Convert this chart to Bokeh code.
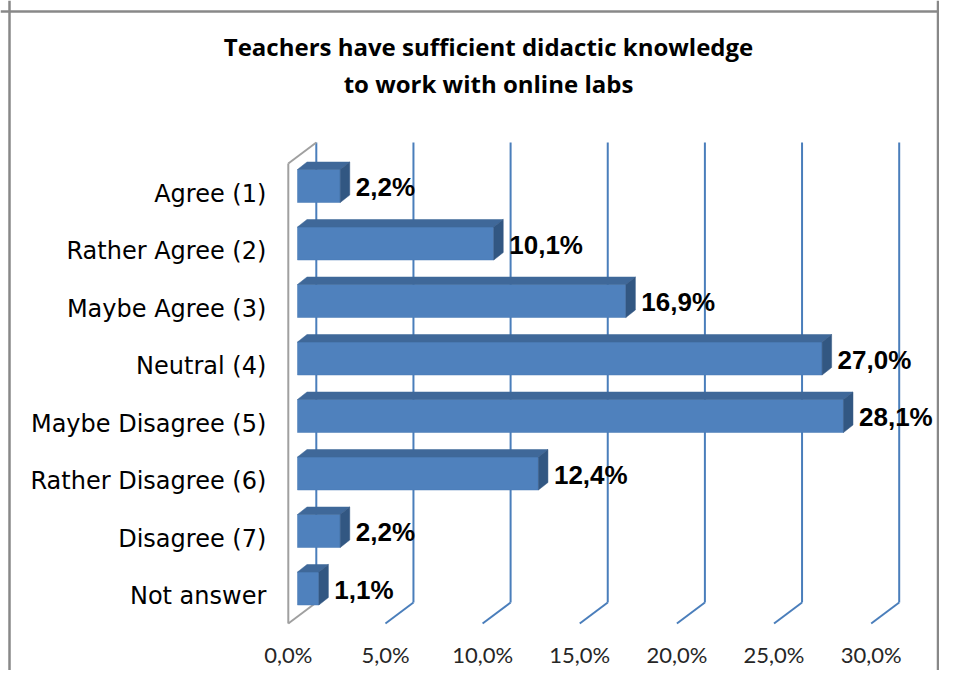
from bokeh.plotting import figure
from bokeh.models import Range1d, LinearAxis, FixedTicker, Label, Span
from bokeh.core.properties import value
from bokeh.embed import file_html
from bokeh.resources import INLINE

# ---------------- data ----------------
title_lines = ["Teachers have sufficient didactic knowledge", "to work with online labs"]
categories = ["Agree (1)", "Rather Agree (2)", "Maybe Agree (3)", "Neutral (4)",
              "Maybe Disagree (5)", "Rather Disagree (6)", "Disagree (7)", "Not answer"]
values = [2.2, 10.1, 16.9, 27.0, 28.1, 12.4, 2.2, 1.1]
x_ticks = [0, 5, 10, 15, 20, 25, 30]
x_tick_labels = ["0,0%", "5,0%", "10,0%", "15,0%", "20,0%", "25,0%", "30,0%"]

# ---------------- layout constants (pixels) ----------------
W, H = 939, 670
PXX = 19.43        # px per percent
PXY = 57.5         # px per category row
X0 = 287.8         # canvas px of 0% on the front plane
Y_TOP_ROW = 193.0  # canvas px of first category row (from top)
DX, DY = 28.0, 21.0      # depth of the 3D box
BX, BY = 9.2, 7.5        # front face of bars offset into depth
BDX, BDY = 9.5, 7.5      # depth of bars
BAR_H = 33.0

def fx(px):
    return px / PXX

def fy(px):
    return px / PXY

n = len(categories)
rows = [n - 1 - i for i in range(n)]

x_range = Range1d(-X0 / PXX, (W - X0) / PXX)
y_range = Range1d((n - 1) - (H - Y_TOP_ROW) / PXY, (n - 1) + Y_TOP_ROW / PXY)

p = figure(width=W, height=H, x_range=x_range, y_range=y_range,
           output_backend="svg", toolbar_location=None, min_border=0,
           x_axis_location=None, y_axis_location=None)
p.grid.visible = False
p.outline_line_color = None
p.background_fill_color = "white"
p.border_fill_color = "white"

# chart-area border
p.add_layout(Span(location=x_range.start + fx(9.0), dimension="height",
                  line_color="#888888", line_width=2.5))
p.add_layout(Span(location=y_range.end - fy(11.0), dimension="width",
                  line_color="#888888", line_width=2.5))
p.add_layout(Span(location=x_range.end - fx(1.5), dimension="height",
                  line_color="#888888", line_width=2.5))

# 3D walls / gridlines
yb = rows[-1] - fy(27.5)   # front floor
yt = rows[0] + fy(30.0)    # front top
grid_xs, grid_ys = [], []
for t in x_ticks:
    grid_xs.append([t + fx(DX), t + fx(DX)])
    grid_ys.append([yb + fy(DY), yt + fy(DY)])
    if t > x_ticks[0]:
        grid_xs.append([t, t + fx(DX)])
        grid_ys.append([yb, yb + fy(DY)])
p.multi_line(grid_xs, grid_ys, line_color="#4A7EBB", line_width=2)

wall_xs = [[0, 0], [0, fx(DX)], [0, fx(DX)]]
wall_ys = [[yb, yt], [yt, yt + fy(DY)], [yb, yb + fy(DY)]]
p.multi_line(wall_xs, wall_ys, line_color="#A0A0A0", line_width=2)

# bars
x0 = fx(BX)
h = fy(BAR_H) / 2
centers = [r + fy(BY) for r in rows]
lefts = [x0] * n
rights = [x0 + v for v in values]
p.quad(left=lefts, right=rights, bottom=[c - h for c in centers],
       top=[c + h for c in centers], fill_color="#4F81BD", line_color="#4A7AB5",
       line_width=0.5)
top_xs = [[x0, r, r + fx(BDX), x0 + fx(BDX)] for r in rights]
top_ys = [[c + h, c + h, c + h + fy(BDY), c + h + fy(BDY)] for c in centers]
p.patches(top_xs, top_ys, fill_color="#3F6899", line_color="#3F6899", line_width=0.5)
side_xs = [[r, r + fx(BDX), r + fx(BDX), r] for r in rights]
side_ys = [[c - h, c - h + fy(BDY), c + h + fy(BDY), c + h] for c in centers]
p.patches(side_xs, side_ys, fill_color="#325782", line_color="#325782", line_width=0.5)

# value labels
lab_txt = [f"{v:.1f}".replace(".", ",") + "%" for v in values]
p.text(x=[r + fx(BDX) + fx(6) for r in rights], y=[c - fy(1) for c in centers],
       text=lab_txt, text_font=value("Liberation Sans"), text_font_style="bold",
       text_font_size="26px", text_align="left", text_baseline="middle",
       text_color="#000000")

# axes
xaxis = LinearAxis(fixed_location=yb, ticker=FixedTicker(ticks=x_ticks),
                   major_label_overrides={t: s for t, s in zip(x_ticks, x_tick_labels)},
                   axis_line_color=None, major_tick_line_color=None,
                   minor_tick_line_color=None, major_tick_out=0, major_tick_in=0,
                   major_label_standoff=17,
                   major_label_text_font="Lato", major_label_text_font_size="22px",
                   major_label_text_color="#262626")
p.add_layout(xaxis, "below")

yaxis = LinearAxis(fixed_location=0, ticker=FixedTicker(ticks=rows),
                   major_label_overrides={r: c for r, c in zip(rows, categories)},
                   axis_line_color=None, major_tick_line_color=None,
                   minor_tick_line_color=None, major_tick_out=0, major_tick_in=0,
                   major_label_standoff=22,
                   major_label_text_font="DejaVu Sans",
                   major_label_text_font_size="24px",
                   major_label_text_color="#000000")
p.add_layout(yaxis, "left")

# title
for k, line in enumerate(title_lines):
    p.add_layout(Label(x=488, y=H - 46 - 37 * k, x_units="screen", y_units="screen",
                       text=line, text_align="center", text_baseline="middle",
                       text_font="Open Sans", text_font_style="bold",
                       text_font_size="24px", text_color="#000000"))

open("out.html", "w").write(file_html(p, INLINE))
